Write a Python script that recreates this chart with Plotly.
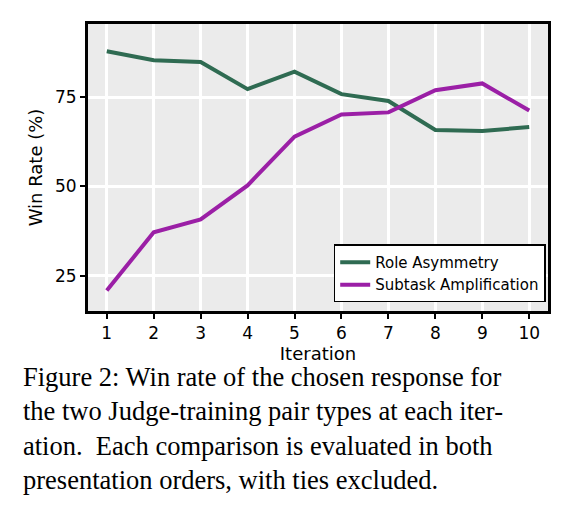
import plotly.graph_objects as go

iterations = [1, 2, 3, 4, 5, 6, 7, 8, 9, 10]
role_asym = [87.8, 85.3, 84.8, 77.2, 82.1, 75.8, 73.9, 65.8, 65.5, 66.6]
subtask_amp = [20.9, 37.2, 40.8, 50.3, 63.9, 70.1, 70.7, 76.9, 78.8, 71.2]
y_ticks = [25, 50, 75]

fig = go.Figure()
fig.add_trace(go.Scatter(x=iterations, y=role_asym, mode="lines", name="Role Asymmetry",
                         line=dict(color="#2f6b52", width=4)))
fig.add_trace(go.Scatter(x=iterations, y=subtask_amp, mode="lines", name="Subtask Amplification",
                         line=dict(color="#9b1fa6", width=4)))

axis_common = dict(showgrid=True, gridcolor="white", gridwidth=2.5, zeroline=False,
                   showline=True, linecolor="black", linewidth=3, mirror=True,
                   ticks="outside", ticklen=5, tickwidth=1.5, tickcolor="black",
                   tickfont=dict(family="DejaVu Sans", size=17, color="black"),
                   title_font=dict(family="DejaVu Sans", size=18, color="black"))

fig.update_layout(
    width=578, height=521, paper_bgcolor="white", plot_bgcolor="#ebebeb",
    margin=dict(l=80, r=38, t=16, b=218),
    xaxis=dict(range=[0.6, 10.4], tickvals=iterations, title=dict(text="Iteration", standoff=2), **axis_common),
    yaxis=dict(range=[15.2, 95.4], tickvals=y_ticks, title=dict(text="Win Rate (%)", standoff=8), **axis_common),
    legend=dict(x=0.995, y=0.03, xanchor="right", yanchor="bottom", bgcolor="white",
                bordercolor="black", borderwidth=1.5,
                font=dict(family="DejaVu Sans", size=15, color="black")),
    showlegend=True,
)

caption = ("Figure 2: Win rate of the chosen response for<br>"
           "the two Judge-training pair types at each iter-<br>"
           "ation.  Each comparison is evaluated in both<br>"
           "presentation orders, with ties excluded.")
fig.add_annotation(text=caption, xref="paper", yref="paper", x=-0.145, y=-0.17,
                   xanchor="left", yanchor="top", showarrow=False, align="left",
                   font=dict(family="Liberation Serif", size=26.5, color="black"))

fig.write_html("out.html")
